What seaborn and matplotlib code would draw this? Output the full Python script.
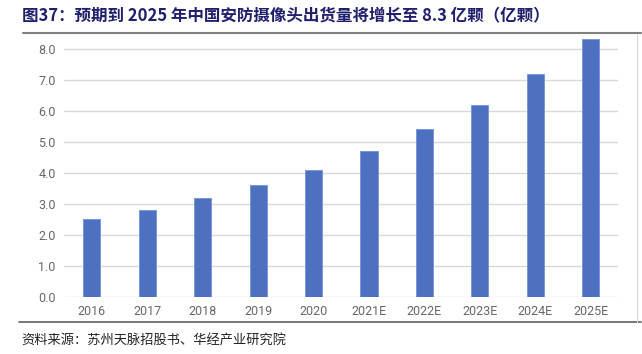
import matplotlib
matplotlib.use("Agg")
import matplotlib.pyplot as plt
import seaborn as sns
import pandas as pd
from matplotlib.lines import Line2D

# 数据
years = ['2016', '2017', '2018', '2019', '2020', '2021E', '2022E', '2023E', '2024E', '2025E']
shipments = [2.5, 2.8, 3.2, 3.6, 4.1, 4.7, 5.4, 6.2, 7.2, 8.3]
y_ticks = [0, 1, 2, 3, 4, 5, 6, 7, 8]

title = '图37：预期到 2025 年中国安防摄像头出货量将增长至 8.3 亿颗（亿颗）'
source = '资料来源：苏州天脉招股书、华经产业研究院'

sns.set_theme(style='white')
plt.rcParams['font.family'] = ['Noto Sans CJK SC', 'DejaVu Sans']

df = pd.DataFrame({'year': years, 'value': shipments})

fig = plt.figure(figsize=(6.42, 3.54), dpi=100)
ax = fig.add_axes([0.1, 0.161, 0.863, 0.732])

sns.barplot(data=df, x='year', y='value', color='#4E70C0', width=0.31,
            saturation=1, edgecolor='#7491D4', linewidth=0.6, ax=ax, zorder=3)

ax.set_ylim(0, 8.35)
ax.set_yticks(y_ticks)
ax.set_yticklabels([f'{v:.1f}' for v in y_ticks], fontfamily='Roboto')
ax.grid(axis='y', color='#D9D9D9', linewidth=1, zorder=0)
ax.set_axisbelow(True)
for s in ax.spines.values():
    s.set_visible(False)
ax.tick_params(axis='both', length=0, labelsize=9, labelcolor='#666666', pad=6)
for lbl in ax.get_xticklabels():
    lbl.set_fontfamily('Roboto')
ax.set_xlabel('')
ax.set_ylabel('')

# 标题与来源
fig.text(0.034, 0.957, title, fontsize=11.9, fontweight='bold', color='#1F1F6B',
         va='center', ha='left')
fig.text(0.034, 0.04, source, fontsize=9.5, color='#222222', va='center', ha='left')

# 分隔线
fig.add_artist(Line2D([0.036, 0.998], [0.907, 0.907], color='#808080', linewidth=1.5))
fig.add_artist(Line2D([0.03, 0.998], [0.089, 0.089], color='#606060', linewidth=1.2))
fig.add_artist(Line2D([0.992, 0.992], [0.09, 0.905], color='#D9D9D9', linewidth=0.8))

fig.savefig('out.png', dpi=100)
